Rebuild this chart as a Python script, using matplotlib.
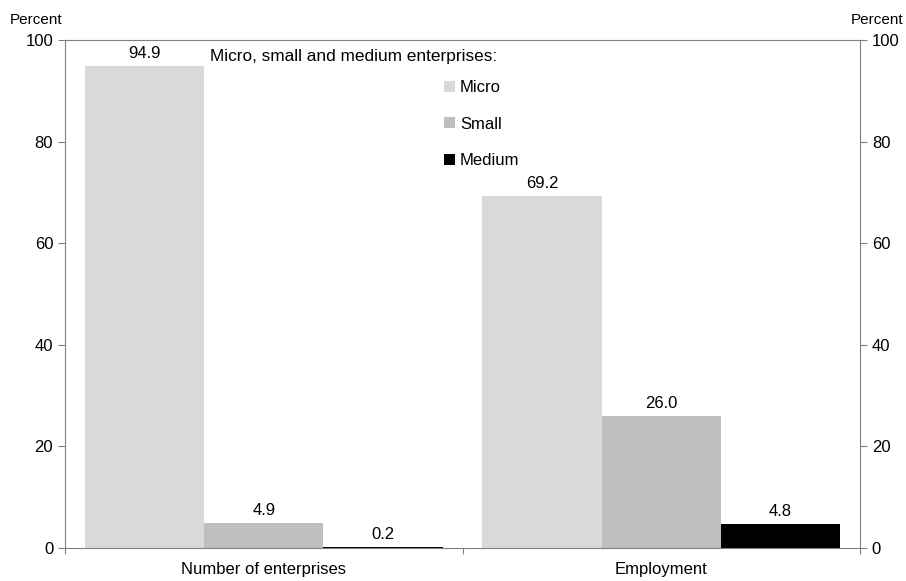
import matplotlib.pyplot as plt
import numpy as np
from matplotlib.patches import Patch

plt.rcParams['font.family'] = ['Liberation Sans', 'DejaVu Sans']

# data
categories = ['Number of enterprises', 'Employment']
series = ['Micro', 'Small', 'Medium']
micro = [94.9, 69.2]
small = [4.9, 26.0]
medium = [0.2, 4.8]
colors = ['#d9d9d9', '#bfbfbf', '#000000']

fig = plt.figure(figsize=(9.06, 5.81), dpi=100)
ax = fig.add_axes([65/906, 1-548/581, (860-65)/906, (548-40)/581])

x = np.arange(len(categories))
w = 0.3
for i, (vals, c) in enumerate(zip([micro, small, medium], colors)):
    pos = x + (i-1)*w
    ax.bar(pos, vals, w, color=c, edgecolor='none')
    for p, v in zip(pos, vals):
        ax.text(p, v+1.0, f'{v:.1f}', ha='center', va='bottom', fontsize=12)

ax.set_xlim(-0.5, 1.5)
ax.set_ylim(0, 100)
ax.set_yticks(range(0, 101, 20))
ax.set_xticks([-0.5, 0.5, 1.5])
ax.set_xticklabels([])
ax.set_xticks(x, minor=True)
ax.set_xticklabels(categories, minor=True, fontsize=12)
ax.tick_params(axis='x', which='minor', length=0, pad=10)
ax.tick_params(axis='x', which='major', length=4, color='#808080')
ax.tick_params(axis='y', labelsize=12, length=5, color='#808080',
               right=True, labelright=True)
for s in ax.spines.values():
    s.set_color('#808080')

fig.text(10/906, 1-20/581, 'Percent', fontsize=11, ha='left', va='center')
fig.text(903/906, 1-20/581, 'Percent', fontsize=11, ha='right', va='center')

fig.text(210/906, 1-57/581, 'Micro, small and medium enterprises:',
         fontsize=12.4, ha='left', va='center')
handles = [Patch(facecolor=c, edgecolor='none') for c in colors]
ax.legend(handles, series, loc='upper left', bbox_to_anchor=(444/906, 1-80/581),
          bbox_transform=fig.transFigure, frameon=False, fontsize=12,
          handlelength=0.65, handleheight=0.65, handletextpad=0.3, labelspacing=1.3,
          borderaxespad=0, borderpad=0)

fig.savefig('out.png', dpi=100)
